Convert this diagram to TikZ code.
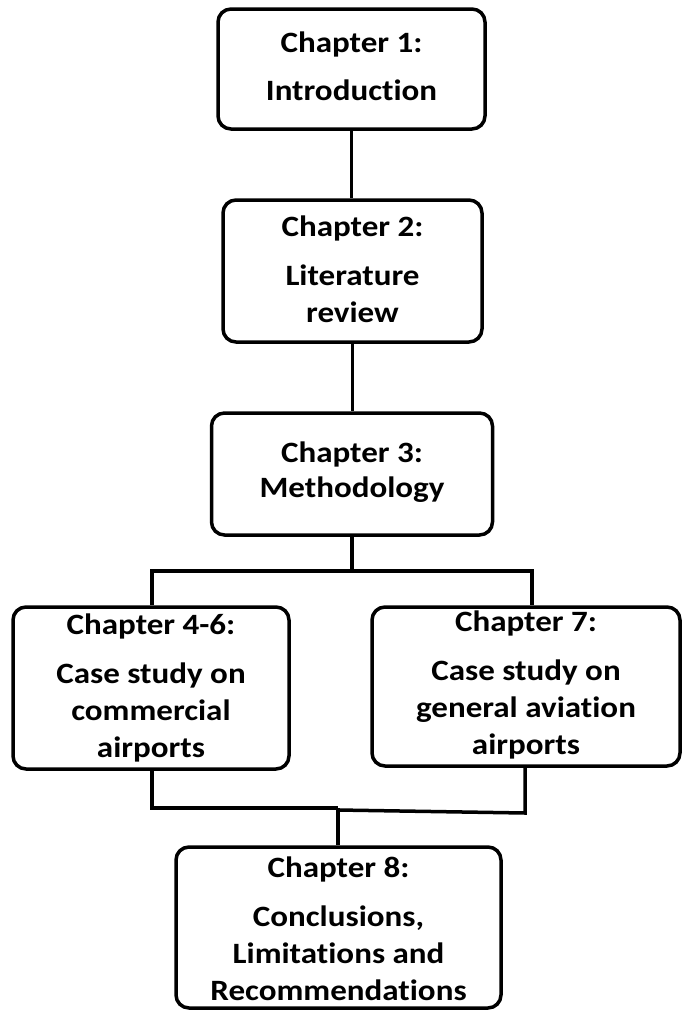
\documentclass[tikz,border=0pt]{standalone}
\usepackage{fontspec}
\setmainfont{Carlito}[Ligatures=NoCommon, FakeStretch=1.12]
\usetikzlibrary{positioning}
\begin{document}
\begin{tikzpicture}[x=1pt, y=-1pt,
  chapbox/.style={draw, line width=3.5pt, rounded corners=13pt, inner sep=0pt},
  chaptext/.style={align=center, inner sep=0pt, font=\bfseries\fontsize{29.5}{37}\selectfont},
  conn/.style={line width=3.5pt},
]
\useasboundingbox (0,0) rectangle (681,1010);
\node[chapbox, minimum width=267pt, minimum height=120pt] (c1) at (351.5,69) {};
\node[chapbox, minimum width=259pt, minimum height=142pt] (c2) at (352.5,271) {};
\node[chapbox, minimum width=281pt, minimum height=122pt] (c3) at (352,474) {};
\node[chapbox, minimum width=276pt, minimum height=162pt] (c4) at (151,688) {};
\node[chapbox, minimum width=308pt, minimum height=159pt] (c7) at (526,686.5) {};
\node[chapbox, minimum width=325pt, minimum height=161pt] (c8) at (338.5,927.5) {};
\node[chaptext] (t1) at (351.5,66) {Chapter 1:\\[11pt]Introduction};
\node[chaptext] (t2) at (352.5,269) {Chapter 2:\\[12pt]Literature\\review};
\node[chaptext] (t3) at (352,472.5) {Chapter 3:\\[-2pt]Methodology};
\node[chaptext] (t4) at (151,687.5) {Chapter 4-6:\\[12pt]Case study on\\commercial\\airports};
\node[chaptext] (t7) at (526,685) {Chapter 7:\\[12pt]Case study on\\general aviation\\airports};
\node[chaptext] (t8) at (338.5,928.5) {Chapter 8:\\[12pt]Conclusions,\\Limitations and\\Recommendations};
\coordinate (split) at (352,571);
\coordinate (splitL) at (152,571);
\coordinate (splitR) at (532,571);
\coordinate (merge) at (338,808);
\coordinate (mergeL) at (152,808);
\coordinate (mergeM) at (338,810);
\coordinate (mergeR) at (525,813);
\draw[conn] (c1.south) -- (c1.south |- c2.north);
\draw[conn] (c2.south) -- (c2.south |- c3.north);
\draw[conn] (c3.south) -- (split);
\draw[conn] (c4.north -| splitL) -- (splitL) -- (splitR) -- (c7.north -| splitR);
\draw[conn] (c4.south -| mergeL) -- (mergeL) -- (merge);
\draw[conn] (c7.south -| mergeR) -- (mergeR) -- (mergeM);
\draw[conn] (merge) -- (c8.north -| merge);
\end{tikzpicture}
\end{document}
